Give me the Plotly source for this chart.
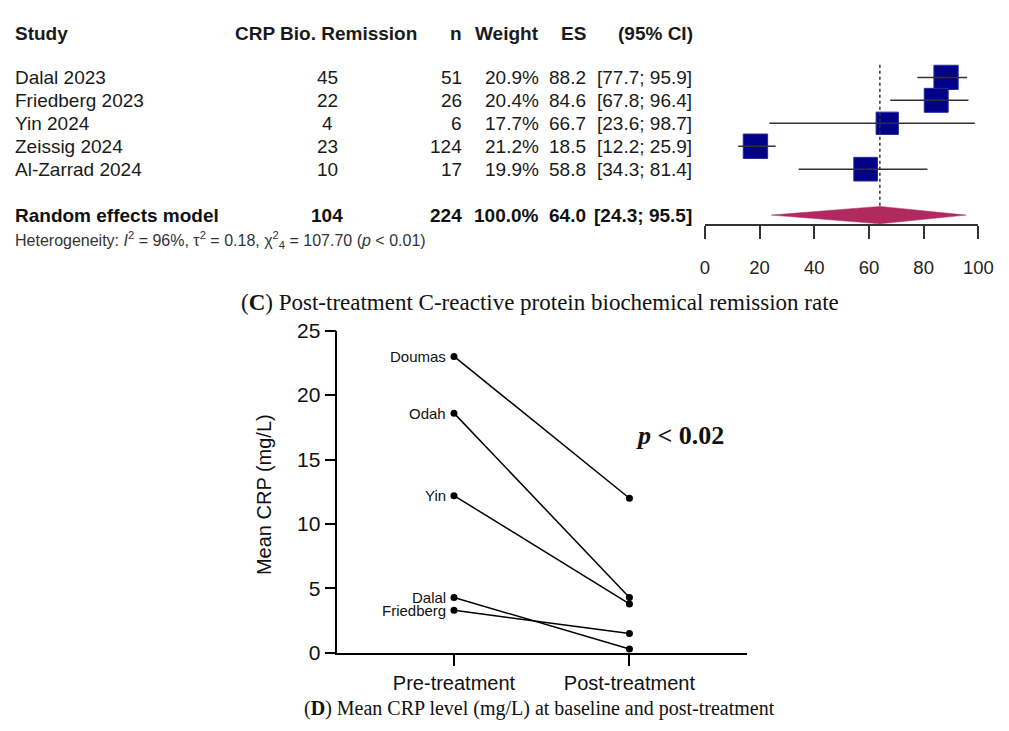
import plotly.graph_objects as go

W, H = 1009, 731

# ---------------- data: forest plot (C) ----------------
studies = ["Dalal 2023", "Friedberg 2023", "Yin 2024", "Zeissig 2024", "Al-Zarrad 2024"]
events = [45, 22, 4, 23, 10]
totals = [51, 26, 6, 124, 17]
weights = [20.9, 20.4, 17.7, 21.2, 19.9]
es = [88.2, 84.6, 66.7, 18.5, 58.8]
ci_lo = [77.7, 67.8, 23.6, 12.2, 34.3]
ci_hi = [95.9, 96.4, 98.7, 25.9, 81.4]
pooled_label = "Random effects model"
pooled_events = 104
pooled_total = 224
pooled_weight = 100.0
pooled_es = 64.0
pooled_lo = 24.3
pooled_hi = 95.5
forest_ticks = [0, 20, 40, 60, 80, 100]
headers = ["Study", "CRP Bio. Remission", "n", "Weight", "ES", "(95% CI)"]

# ---------------- data: paired plot (D) ----------------
crp_studies = ["Doumas", "Odah", "Yin", "Dalal", "Friedberg"]
crp_pre = [23.0, 18.6, 12.2, 4.3, 3.3]
crp_post = [12.0, 4.3, 3.8, 0.3, 1.5]
time_labels = ["Pre-treatment", "Post-treatment"]
crp_ticks = [0, 5, 10, 15, 20, 25]

SANS = "Liberation Sans, Arial, sans-serif"
SERIF = "Liberation Serif, Times New Roman, serif"


def px(x):
    return x / W


def py(y):
    return 1 - y / H


# forest row geometry (rows in data units of yaxis)
ROW0, ROWH = 67.5, 23.7
rows = list(range(len(studies)))
pooled_row = 6
ytop = -ROW0 / ROWH
ybot = (219 - ROW0) / ROWH

fig = go.Figure()

# squares
fig.add_trace(go.Scatter(
    x=es, y=rows, mode="markers",
    marker=dict(symbol="square", size=[5.3 * w ** 0.5 for w in weights], opacity=1,
                color="#000088", line=dict(color="#2a2a96", width=1)),
    xaxis="x", yaxis="y", showlegend=False, hoverinfo="skip"))

# CI lines
cx, cy = [], []
for lo, hi, r in zip(ci_lo, ci_hi, rows):
    cx += [lo, hi, None]
    cy += [r, r, None]
fig.add_trace(go.Scatter(x=cx, y=cy, mode="lines",
                         line=dict(color="#333333", width=1.5),
                         xaxis="x", yaxis="y", showlegend=False, hoverinfo="skip"))
fig.add_trace(go.Scatter(x=es, y=rows, mode="markers",
                         marker=dict(color="#222222", size=3, opacity=1),
                         xaxis="x", yaxis="y", showlegend=False, hoverinfo="skip"))

# dotted reference line at pooled estimate
fig.add_trace(go.Scatter(x=[pooled_es, pooled_es], y=[-0.55, ybot], mode="lines",
                         line=dict(color="#333333", width=1.5, dash="dot"),
                         xaxis="x", yaxis="y", showlegend=False, hoverinfo="skip"))

# diamond
dh = 0.38
fig.add_trace(go.Scatter(
    x=[pooled_lo, pooled_es, pooled_hi, pooled_es, pooled_lo],
    y=[pooled_row, pooled_row - dh, pooled_row, pooled_row + dh, pooled_row],
    mode="lines", fill="toself", fillcolor="#B02A5F",
    line=dict(color="#B02A5F", width=0.5),
    xaxis="x", yaxis="y", showlegend=False, hoverinfo="skip"))

# paired lines (D)
for name, a, b in zip(crp_studies, crp_pre, crp_post):
    fig.add_trace(go.Scatter(x=[0, 1], y=[a, b], mode="lines+markers",
                             line=dict(color="black", width=1.5),
                             marker=dict(color="black", size=7, opacity=1),
                             xaxis="x2", yaxis="y2", showlegend=False,
                             name=name, hoverinfo="skip"))

ann = []

cols_h = [(8, "left"), (327, "center"), (468, "right"), (547, "right"), (595, "right"), (704, "right")]
cols = [(8, "left"), (329, "center"), (468, "right"), (547, "right"), (595, "right"), (703, "right")]

for (x, anc), h in zip(cols_h, headers):
    ann.append(dict(x=px(x), xref="paper", y=-1.9, yref="y", xanchor=anc, yanchor="middle",
                    text=f"<b>{h}</b>", showarrow=False, font=dict(family=SANS, size=19, color="#1a1a1a")))

for i, r in enumerate(rows):
    vals = [studies[i], str(events[i]), str(totals[i]), f"{weights[i]:.1f}%", f"{es[i]:.1f}",
            f"[{ci_lo[i]:.1f}; {ci_hi[i]:.1f}]"]
    for (x, anc), v in zip(cols, vals):
        ann.append(dict(x=px(x), xref="paper", y=r, yref="y", xanchor=anc, yanchor="middle",
                        text=v, showarrow=False, font=dict(family=SANS, size=19, color="#1a1a1a")))

pvals = [pooled_label, str(pooled_events), str(pooled_total), f"{pooled_weight:.1f}%", f"{pooled_es:.1f}",
         f"[{pooled_lo:.1f}; {pooled_hi:.1f}]"]
for (x, anc), v in zip(cols, pvals):
    ann.append(dict(x=px(x), xref="paper", y=pooled_row, yref="y", xanchor=anc, yanchor="middle",
                    text=f"<b>{v}</b>", showarrow=False, font=dict(family=SANS, size=19, color="#111111")))

ann.append(dict(x=px(8), xref="paper", y=py(235), yref="paper", xanchor="left", yanchor="middle",
                text="Heterogeneity: <i>I</i><sup>2</sup> = 96%, τ<sup>2</sup> = 0.18, "
                     "χ<sup>2</sup><sub>4</sub> = 107.70 (<i>p</i> &lt; 0.01)",
                showarrow=False, font=dict(family=SANS, size=16, color="#333333")))

# captions
ann.append(dict(x=px(546), xref="paper", y=py(300), yref="paper", xanchor="center", yanchor="middle",
                text="(<b>C</b>) Post-treatment C-reactive protein biochemical remission rate",
                showarrow=False, font=dict(family=SERIF, size=23, color="#111111")))
ann.append(dict(x=px(545), xref="paper", y=py(719), yref="paper", xanchor="center", yanchor="middle",
                text="(<b>D</b>) Mean CRP level (mg/L) at baseline and post-treatment",
                showarrow=False, font=dict(family=SERIF, size=20, color="#111111")))

# D labels
for name, a in zip(crp_studies, crp_pre):
    ann.append(dict(x=0, xref="x2", y=a, yref="y2", xanchor="right", yanchor="middle", xshift=-6,
                    text=name, showarrow=False, font=dict(family=SANS, size=15, color="#111111")))

ann.append(dict(x=px(265), xref="paper", y=py(498), yref="paper", xanchor="center", yanchor="middle",
                text="Mean CRP (mg/L)", textangle=-90, showarrow=False,
                font=dict(family=SANS, size=20, color="#111111")))

ann.append(dict(x=px(689), xref="paper", y=py(437), yref="paper", xanchor="center", yanchor="middle",
                text="<b><i>p</i> &lt; 0.02</b>", showarrow=False,
                font=dict(family=SERIF, size=26, color="#111111")))

fig.update_layout(
    width=W, height=H, margin=dict(l=0, r=0, t=0, b=0),
    paper_bgcolor="white", plot_bgcolor="white", showlegend=False,
    annotations=ann, hovermode=False,
    xaxis=dict(domain=[px(714), px(993)], range=[0, 100], anchor="y",
               tickvals=forest_ticks, ticks="outside", ticklen=13, tickwidth=1.5, tickcolor="#333333",
               showline=True, linecolor="#333333", linewidth=1.5, showgrid=False, zeroline=False,
               tickfont=dict(family=SANS, size=18.5, color="#222222"), ticklabelstandoff=13,
               fixedrange=True),
    yaxis=dict(domain=[py(219), 1], range=[ybot, ytop], visible=False, fixedrange=True),
    xaxis2=dict(domain=[px(339), px(757)], range=[-0.665, 1.670], anchor="y2",
                tickvals=[0, 1], ticktext=time_labels, ticks="outside", ticklen=11, tickwidth=1.5,
                tickcolor="black", showline=True, linecolor="black", linewidth=1.5,
                showgrid=False, zeroline=False, fixedrange=True,
                tickfont=dict(family=SANS, size=20, color="#111111")),
    yaxis2=dict(domain=[py(661.7), py(329)], range=[0, 25], anchor="x2",
                tickvals=crp_ticks, ticks="outside", ticklen=11, tickwidth=1.5, tickcolor="black",
                showline=True, linecolor="black", linewidth=1.5, showgrid=False, zeroline=False,
                fixedrange=True, tickfont=dict(family=SANS, size=21, color="#111111")),
)

fig.write_html("out.html", config={"displayModeBar": False},
               post_script="document.body.style.margin='0';")
